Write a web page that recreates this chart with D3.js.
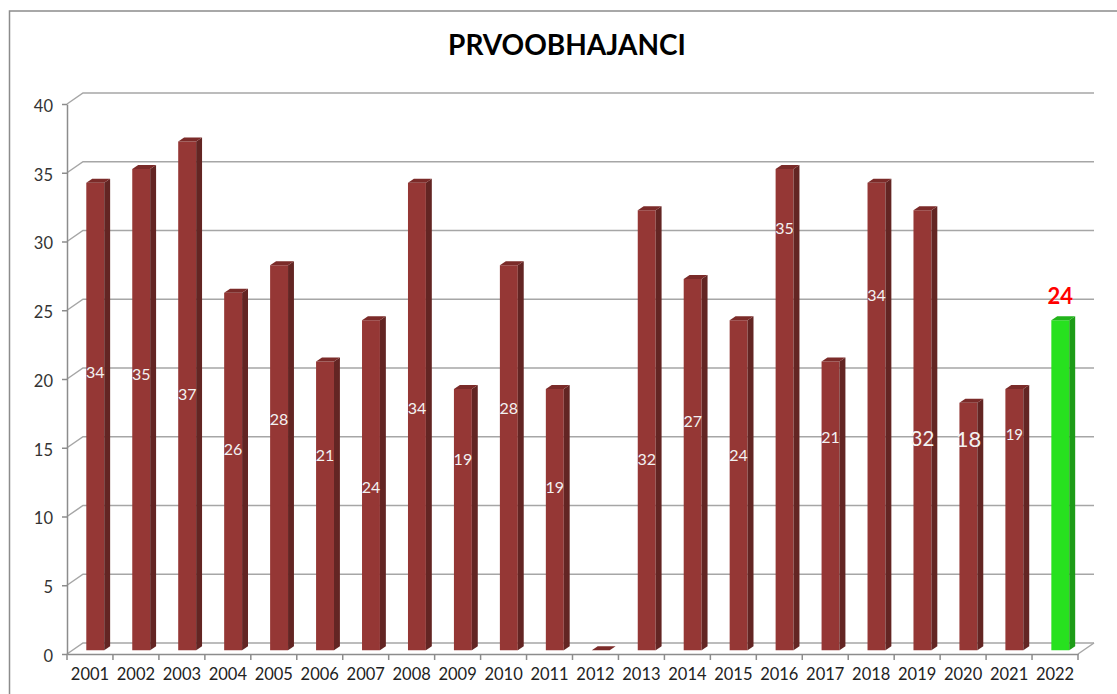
<!DOCTYPE html>
<html>
<head>
<meta charset="utf-8">
<script src="https://cdn.jsdelivr.net/npm/d3@7"></script>
<style>
  body { margin: 0; background: #fff; }
  svg text { font-family: Lato, "Open Sans", sans-serif; }
</style>
</head>
<body>
<div id="chart"></div>
<script>
// chart data
var years = ["2001", "2002", "2003", "2004", "2005", "2006", "2007", "2008", "2009", "2010", "2011",
             "2012", "2013", "2014", "2015", "2016", "2017", "2018", "2019", "2020", "2021", "2022"];
var counts = [34, 35, 37, 26, 28, 21, 24, 34, 19, 28, 19, 0, 32, 27, 24, 35, 21, 34, 32, 18, 19, 24];
// level (in axis units) where each value label sits
var labelLevels = [20.2, 20.1, 18.6, 14.6, 16.8, 14.2, 11.9, 17.6, 13.9, 17.6, 11.9,
                   null, 13.9, 16.7, 14.2, 30.7, 15.5, 25.8, 15.4, 15.4, 15.7, 25.8];
var yTicks = [0, 5, 10, 15, 20, 25, 30, 35, 40];
var title = "PRVOOBHAJANCI";

function main() {
    var W = 1117, H = 694;
    var left = 67, right = 1078, bottom = 654, top = 104;
    // depth of the 3d floor
    var depthX = 16, depthY = -11;
    var f0 = 0.33, f1 = 0.7; // front and back plane of bars

    var svg = d3.select("#chart").append("svg")
        .attr("width", W)
        .attr("height", H);

    // chart frame
    svg.append("rect")
        .attr("x", 9.5).attr("y", 11)
        .attr("width", W + 20).attr("height", H + 20)
        .attr("fill", "none")
        .attr("stroke", "#8c8c8c")
        .attr("stroke-width", 1.5);

    var x = d3.scaleBand()
        .domain(years)
        .range([left, right])
        .paddingInner(0.61)
        .paddingOuter(0.305);
    var step = x.step();

    var y = d3.scaleLinear()
        .domain([0, 40])
        .range([bottom, top]);

    // project a point at a given depth fraction
    function p(px, v, f) {
        return [px + f * depthX, y(v) + f * depthY];
    }
    function poly(pts) {
        return "M" + pts.map(function (q) { return q[0] + "," + q[1]; }).join("L") + "Z";
    }

    // back wall gridlines
    var grid = svg.append("g");
    yTicks.forEach(function (t) {
        var a = p(left, t, 0), b = p(left, t, 1), c = p(right, t, 1);
        grid.append("path")
            .attr("d", "M" + a + "L" + b + "L" + c)
            .attr("fill", "none")
            .attr("stroke", "#a6a6a6")
            .attr("stroke-width", 1.5);
    });
    // right floor edge
    var fr0 = p(right, 0, 0), fr1 = p(right, 0, 1);
    grid.append("path")
        .attr("d", "M" + fr0 + "L" + fr1)
        .attr("stroke", "#a6a6a6")
        .attr("stroke-width", 1.5);

    // y axis
    var yAxis = svg.append("g")
        .attr("transform", "translate(" + left + ",0)")
        .call(d3.axisLeft(y).tickValues(yTicks).tickSize(5).tickPadding(9).tickSizeOuter(0));
    yAxis.select(".domain").attr("stroke", "#8c8c8c").attr("stroke-width", 1.5);
    yAxis.selectAll(".tick line").attr("stroke", "#8c8c8c").attr("stroke-width", 1.5);
    yAxis.selectAll(".tick text")
        .attr("font-size", "16.5px")
        .attr("fill", "#333")
        .attr("dy", "0.45em");

    // x axis
    var xAxis = svg.append("g")
        .attr("transform", "translate(0," + bottom + ")")
        .call(d3.axisBottom(x).tickSize(0).tickSizeOuter(0).tickPadding(14));
    xAxis.select(".domain").attr("stroke", "#8c8c8c").attr("stroke-width", 1.5);
    xAxis.selectAll(".tick text")
        .attr("font-size", "16.5px")
        .attr("fill", "#222");
    xAxis.selectAll(".boundary")
        .data(d3.range(years.length + 1))
        .enter()
        .append("line")
        .attr("x1", function (i) { return left + i * step; })
        .attr("x2", function (i) { return left + i * step; })
        .attr("y1", 0).attr("y2", 6)
        .attr("stroke", "#8c8c8c")
        .attr("stroke-width", 1.5);

    // bars
    var rows = years.map(function (yr, i) {
        return { year: yr, value: counts[i], level: labelLevels[i], last: i === years.length - 1 };
    });
    var bars = svg.selectAll(".bar")
        .data(rows)
        .enter()
        .append("g")
        .attr("class", "bar");

    function faces(d) {
        var x0 = x(d.year), x1 = x0 + x.bandwidth();
        return {
            front: [p(x0, 0, f0), p(x1, 0, f0), p(x1, d.value, f0), p(x0, d.value, f0)],
            side: [p(x1, 0, f0), p(x1, 0, f1), p(x1, d.value, f1), p(x1, d.value, f0)],
            top: [p(x0, d.value, f0), p(x1, d.value, f0), p(x1, d.value, f1), p(x0, d.value, f1)]
        };
    }

    bars.filter(function (d) { return d.value > 0; })
        .append("path")
        .attr("d", function (d) { return poly(faces(d).front); })
        .attr("fill", function (d) { return d.last ? "#27e11f" : "#953735"; });
    bars.filter(function (d) { return d.value > 0; })
        .append("path")
        .attr("d", function (d) { return poly(faces(d).side); })
        .attr("fill", function (d) { return d.last ? "#1d9c17" : "#632523"; });
    bars.append("path")
        .attr("d", function (d) { return poly(faces(d).top); })
        .attr("fill", function (d) { return d.last ? "#22b41b" : "#7b2b29"; });

    // value labels
    var labelSize = { "2019": 20.5, "2020": 22, "2021": 15, "2022": 22 };
    svg.selectAll(".lbl")
        .data(rows.filter(function (d) { return d.level !== null; }))
        .enter()
        .append("text")
        .attr("class", "lbl")
        .attr("text-anchor", "middle")
        .attr("x", function (d) { return x(d.year) + x.bandwidth() / 2 + f0 * depthX; })
        .attr("y", function (d) {
            var fs = labelSize[d.year] || 16;
            return y(d.level) + f0 * depthY + fs * 0.36;
        })
        .attr("font-size", function (d) { return (labelSize[d.year] || 16) + "px"; })
        .attr("font-weight", function (d) { return d.last ? "bold" : "normal"; })
        .attr("fill", function (d) { return d.last ? "#ff0000" : "#f2f2f2"; })
        .text(function (d) { return d.value; });

    // title
    svg.append("text")
        .attr("x", 567)
        .attr("y", 55)
        .attr("text-anchor", "middle")
        .attr("font-size", "28px")
        .attr("font-weight", "bold")
        .attr("fill", "#000")
        .text(title);
}
window.addEventListener('load', main);
</script>
</body>
</html>
